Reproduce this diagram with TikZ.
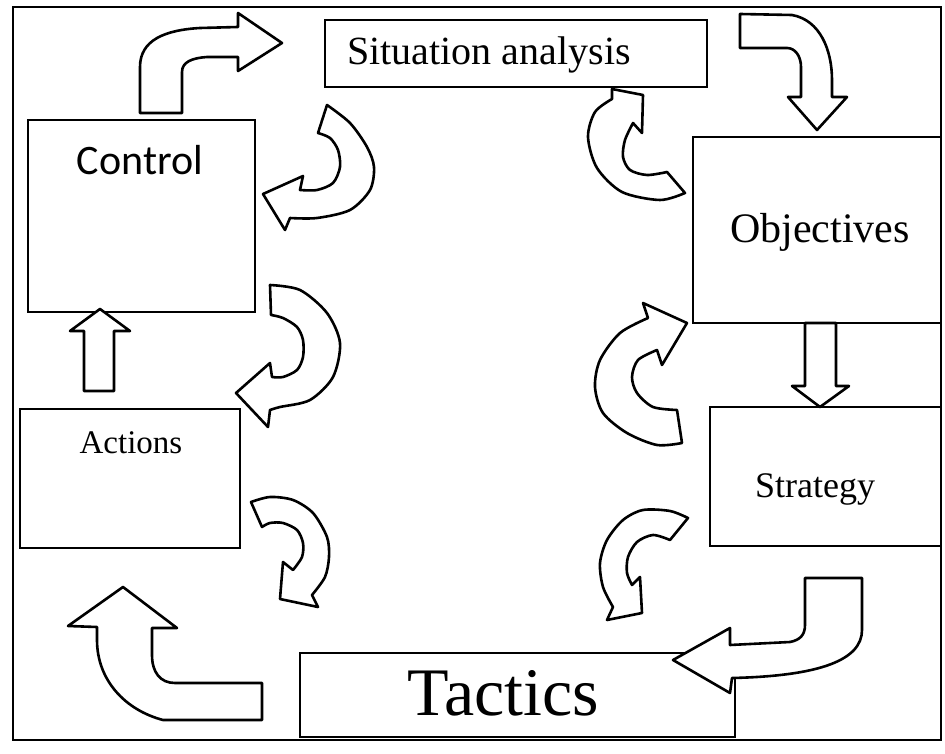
\documentclass[tikz,border=0pt]{standalone}
\usepackage{fontspec}
\setmainfont{Liberation Serif}
\newfontfamily\calibfont{Carlito}
\begin{document}
\begin{tikzpicture}[x=1pt,y=-1pt,
  frame/.style={draw=black,line width=2.6pt},
  box/.style={draw=black,line width=2.8pt,inner sep=0pt,outer sep=0pt,fill=white},
  lbl/.style={inner sep=0pt,text=black},
  blk/.style={draw=black,line width=2.6pt,line join=round,fill=white}]
\useasboundingbox (0,0) rectangle (945,754);
\fill[white] (0,0) rectangle (945,754);
\draw[frame] (13,7) rectangle (941,740);

% boxes
\node[box,minimum width=382pt,minimum height=67pt] (sit) at (516,53.5) {};
\node[box,minimum width=227pt,minimum height=192pt] (ctrl) at (141.5,216) {};
\node[box,minimum width=220pt,minimum height=139pt] (act) at (130,478.5) {};
\node[box,minimum width=248pt,minimum height=186pt] (obj) at (817,230) {};
\node[box,minimum width=231pt,minimum height=139pt] (str) at (825.5,476.5) {};
\node[box,minimum width=435pt,minimum height=84pt] (tac) at (517.5,695) {};

% labels
\node[lbl,font=\fontsize{40}{44}\selectfont] (sitt) at (489,55) {Situation analysis};
\node[lbl,font=\calibfont\fontsize{42}{46}\selectfont] (ctrlt) at (140,160) {Control};
\node[lbl,font=\fontsize{42}{46}\selectfont] (objt) at (820,232) {Objectives};
\node[lbl,font=\fontsize{33}{37}\selectfont] (actt) at (131,443) {Actions};
\node[lbl,font=\fontsize{36}{40}\selectfont] (strt) at (815,489) {Strategy};
\node[lbl,font=\fontsize{68}{72}\selectfont] (tact) at (503,693) {Tactics};

% A1 top-left bent arrow (Control -> Situation analysis)
\draw[blk] (140,113) -- (140,67) .. controls (140,40) and (165,30) .. (200,28) -- (238,27)
  -- (238,13) -- (282,43) -- (238,71) -- (238,57) -- (207,57)
  .. controls (192,58) and (182,62) .. (182,72) -- (182,113) -- cycle;

% A2 top-right bent arrow (Situation analysis -> Objectives)
\draw[blk] (740,14) -- (792,15) .. controls (820,20) and (832,50) .. (832,80) -- (832,97)
  -- (847,97) -- (817,130) -- (788,97) -- (801,97) -- (801,67)
  .. controls (801,56) and (795,48) .. (787,48) -- (740,48) -- cycle;

% A3 curved arrow right of Control (upper)
\draw[blk] plot[smooth] coordinates {(327,105)(350,123)(367,147)(374,167)(370,190)(350,210)(317,218)(290,218)}
  -- (285,230) -- (263,194) -- (303,176) -- (300,190)
  -- plot[smooth] coordinates {(300,190)(317,190)(333,183)(340,167)(338,150)(330,138)(318,133)} -- cycle;

% A4 curved arrow right of Control (lower)
\draw[blk] plot[smooth] coordinates {(270,285)(300,290)(327,313)(340,343)(333,377)(310,400)(280,407)(270,410)}
  -- (268,427) -- (236,393) -- (270,363) -- (272,377)
  -- plot[smooth] coordinates {(272,377)(283,377)(297,370)(303,357)(303,340)(297,327)(283,318)(271,315)} -- cycle;

% A5 curved arrow left of Objectives
\draw[blk] (687,323) -- (643,303) -- (648,318)
  -- plot[smooth] coordinates {(648,318)(620,333)(600,360)(595,387)(603,413)(627,433)(657,445)(682,443)}
  -- (677,410)
  -- plot[smooth] coordinates {(677,410)(653,407)(637,393)(632,377)(638,360)(657,350)}
  -- (662,365) -- cycle;

% A6 curved arrow right of Actions
\draw[blk] plot[smooth] coordinates {(251,502)(270,497)(293,500)(313,513)(327,537)(329,557)(325,577)(312,595)}
  -- (318,607) -- (280,599) -- (283,562) -- (293,570)
  -- plot[smooth] coordinates {(293,570)(302,557)(303,543)(297,530)(283,523)(270,523)(262,527)} -- cycle;

% A7 curved arrow left of Strategy
\draw[blk] plot[smooth] coordinates {(688,518)(670,511)(643,510)(623,520)(607,540)(600,563)(603,587)(613,607)}
  -- (607,620) -- (642,613) -- (640,577) -- (632,585)
  -- plot[smooth] coordinates {(632,585)(627,573)(628,557)(637,542)(653,535)(670,540)} -- cycle;

% A8 curved arrow below Situation analysis
\draw[blk] plot[smooth] coordinates {(685,193)(660,200)(622,192)(597,168)(588,137)(595,112)(612,99)}
  -- (612,89) -- (643,95) -- (642,133) -- (633,123)
  -- plot[smooth] coordinates {(633,123)(625,140)(623,157)(630,170)(647,175)(667,172)} -- cycle;

% A9 bent arrow below Strategy
\draw[blk] (805,578) -- (862,578) -- (862,630) .. controls (862,660) and (820,676) .. (732,678)
  -- (730,693) -- (673,660) -- (730,628) -- (730,645) -- (790,642)
  .. controls (800,640) and (805,635) .. (805,625) -- cycle;

% A10 bent arrow bottom-left
\draw[blk] (123,587) -- (177,628) -- (152,628) -- (152,655) .. controls (152,672) and (160,683) .. (175,683)
  -- (262,683) -- (262,720) -- (163,720) .. controls (125,710) and (97,680) .. (97,640)
  -- (97,627) -- (68,626) -- cycle;

% A11 up arrow Actions -> Control
\draw[blk] (100,309) -- (130,331) -- (114,331) -- (114,391) -- (84,391) -- (84,331) -- (70,331) -- cycle;

% A12 down arrow Objectives -> Strategy
\draw[blk] (805,323) -- (836,323) -- (836,386) -- (849,386) -- (820,407) -- (792,386) -- (805,386) -- cycle;
\end{tikzpicture}
\end{document}
